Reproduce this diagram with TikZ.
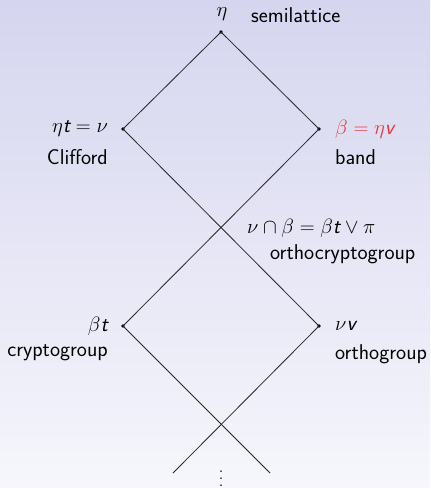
\documentclass[tikz,border=0pt]{standalone}
\usepackage{amsmath}
\definecolor{bgtop}{RGB}{213,213,239}
\definecolor{bgbot}{RGB}{246,246,252}
\definecolor{alertred}{RGB}{232,52,64}
\newcommand{\st}{\mbox{\sffamily\itshape t}}
\newcommand{\sv}{\mbox{\sffamily\itshape v}}
\begin{document}
\begin{tikzpicture}[x=1bp,y=-1bp,
  dot/.style={circle,fill=black,inner sep=0pt,minimum size=3.6bp},
  edge/.style={draw=black!85,line width=0.8bp},
  lbl/.style={inner sep=0pt,font=\sffamily\fontsize{21.5}{25}\selectfont}]
\shade[top color=bgtop,bottom color=bgbot] (0,0) rectangle (430,488);
\useasboundingbox (0,0) rectangle (430,488);
\node[dot] (T) at (221,32) {};
\node[dot] (L) at (123,129) {};
\node[dot] (R) at (319,129) {};
\coordinate (M) at (221,227);
\node[dot] (LL) at (123,326) {};
\node[dot] (LR) at (319,326) {};
\coordinate (BL) at (173,473);
\coordinate (BR) at (270,473);
\draw[edge] (T.center) -- (L.center);
\draw[edge] (T.center) -- (R.center);
\draw[edge] (L.center) -- (LR.center);
\draw[edge] (R.center) -- (LL.center);
\draw[edge] (LL.center) -- (BR);
\draw[edge] (LR.center) -- (BL);
% labels
\node[lbl] (tEta) at (222,14) {$\eta$};
\node[lbl,anchor=west] (tSemi) at (251,15) {semilattice};
\node[lbl,anchor=east] (tNu) at (108,129) {$\eta\st=\nu$};
\node[lbl,anchor=east] (tCliff) at (108,157) {Clifford};
\node[lbl,anchor=west,text=alertred] (tBeta) at (335,129) {$\beta=\eta\sv$};
\node[lbl,anchor=west] (tBand) at (335,157) {band};
\node[lbl,anchor=west] (tCap) at (247,228) {$\nu\cap\beta=\beta\st\vee\pi$};
\node[lbl,anchor=west] (tOC) at (270,254) {orthocryptogroup};
\node[lbl,anchor=east] (tBt) at (108,326) {$\beta\st$};
\node[lbl,anchor=east] (tCG) at (108,353) {cryptogroup};
\node[lbl,anchor=west] (tNuv) at (335,326) {$\nu\sv$};
\node[lbl,anchor=west] (tOG) at (335,354) {orthogroup};
\node[inner sep=0pt,anchor=north,font=\fontsize{20}{24}\selectfont] (tDots) at (221,471)
  {\vbox{\baselineskip=7bp\lineskiplimit=-10bp\hbox{.}\hbox{.}\hbox{.}}};
\end{tikzpicture}
\end{document}
